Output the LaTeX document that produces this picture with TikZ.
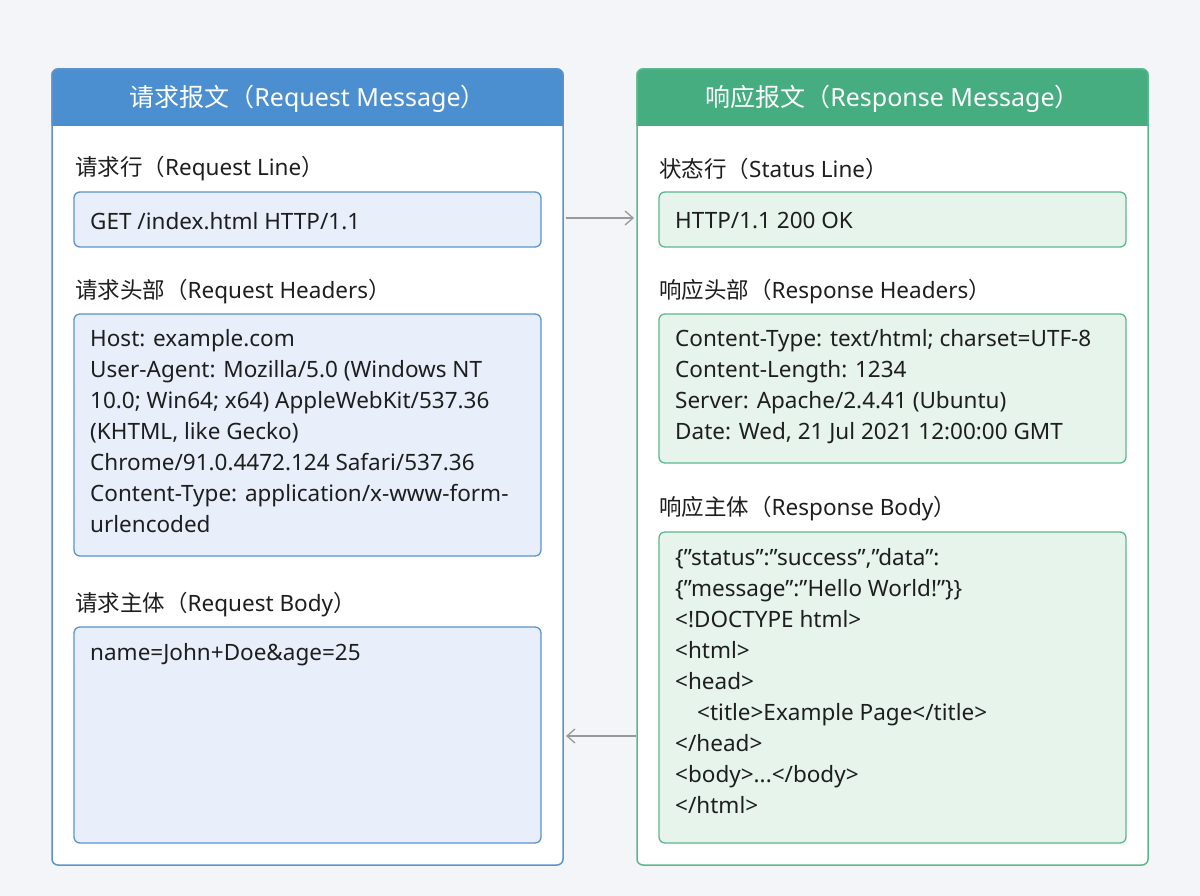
\documentclass[tikz,border=0pt]{standalone}
\usepackage{fontspec}
\setmainfont{Noto Sans}
\newfontfamily\cjk{Noto Sans CJK SC}
\usetikzlibrary{arrows.meta}
\definecolor{bg}{HTML}{F3F5F8}
\definecolor{blueH}{HTML}{4C8FD0}
\definecolor{blueB}{HTML}{E8EFFA}
\definecolor{blueL}{HTML}{5B93CC}
\definecolor{greenH}{HTML}{45AD80}
\definecolor{greenB}{HTML}{E6F4EC}
\definecolor{greenL}{HTML}{5DB78C}
\definecolor{txt}{HTML}{1E1E1E}
\tikzset{
  panel/.style={draw=#1, line width=1.5pt, fill=white, rounded corners=6pt},
  sub/.style={draw=#1, line width=1.3pt, rounded corners=6pt},
  lbl/.style={anchor=west, text=txt, font=\fontsize{22.5}{26}\selectfont, inner sep=0},
  body/.style={anchor=north west, text=txt, align=left, font=\fontsize{22.5}{31}\selectfont, inner sep=0},
  head/.style={text=white, font=\fontsize{25}{28}\selectfont, inner sep=0},
  conn/.style={draw=gray!80, line width=1.3pt, -{Straight Barb[length=8pt,width=14pt]}},
}
\begin{document}
\begin{tikzpicture}[x=1pt,y=-1pt]
\fill[bg] (0,0) rectangle (1200,896);
% left panel
\draw[panel=blueL] (52,69) rectangle (563,865);
\fill[blueH, rounded corners=6pt] (52,69) rectangle (563,126);
\fill[blueH] (52,110) rectangle (563,126);
\draw[blueL, line width=1.5pt, rounded corners=6pt] (52,126) -- (52,69) -- (563,69) -- (563,126);
\node[head] (lh) at (307.5,99) {{\cjk 请求报文（}Request Message{\cjk ）}};
% right panel
\draw[panel=greenL] (637,69) rectangle (1148,865);
\fill[greenH, rounded corners=6pt] (637,69) rectangle (1148,126);
\fill[greenH] (637,110) rectangle (1148,126);
\draw[greenL, line width=1.5pt, rounded corners=6pt] (637,126) -- (637,69) -- (1148,69) -- (1148,126);
\node[head] (rh) at (892.5,99) {{\cjk 响应报文（}Response Message{\cjk ）}};
% left sections
\node[lbl] (l1) at (75,169) {{\cjk 请求行（}Request Line{\cjk ）}};
\draw[sub=blueL, fill=blueB] (74,192) rectangle (541,247);
\node[lbl] (reqline) at (90,221) {GET /index.html HTTP/1.1};
\coordinate (reqR) at (566,218);
\node[lbl] (l2) at (75,292) {{\cjk 请求头部（}Request Headers{\cjk ）}};
\draw[sub=blueL, fill=blueB] (74,314) rectangle (541,556);
\node[body] (reqh) at (90,329) {Host: example.com\\User-Agent: Mozilla/5.0 (Windows NT\\10.0; Win64; x64) AppleWebKit/537.36\\(KHTML, like Gecko)\\Chrome/91.0.4472.124 Safari/537.36\\Content-Type: application/x-www-form-\\urlencoded};
\node[lbl] (l3) at (75,605) {{\cjk 请求主体（}Request Body{\cjk ）}};
\draw[sub=blueL, fill=blueB] (74,627) rectangle (541,843);
\node[body] (reqb) at (90,643) {name=John+Doe\&age=25};
\coordinate (reqL) at (566,736);
% right sections
\node[lbl] (r1) at (659,169) {{\cjk 状态行（}Status Line{\cjk ）}};
\draw[sub=greenL, fill=greenB] (659,192) rectangle (1126,247);
\node[lbl] (status) at (675,221) {HTTP/1.1 200 OK};
\coordinate (resL) at (634,218);
\node[lbl] (r2) at (659,292) {{\cjk 响应头部（}Response Headers{\cjk ）}};
\draw[sub=greenL, fill=greenB] (659,314) rectangle (1126,463);
\node[body] (resh) at (675,329) {Content-Type: text/html; charset=UTF-8\\Content-Length: 1234\\Server: Apache/2.4.41 (Ubuntu)\\Date: Wed, 21 Jul 2021 12:00:00 GMT};
\node[lbl] (r3) at (659,509) {{\cjk 响应主体（}Response Body{\cjk ）}};
\draw[sub=greenL, fill=greenB] (659,532) rectangle (1126,843);
\node[body] (resb) at (675,548) {\{"status":"success","data":\\\{"message":"Hello World!"\}\}\\<!DOCTYPE html>\\<html>\\<head>\\\hspace*{22pt}<title>Example Page</title>\\</head>\\<body>...</body>\\</html>};
\coordinate (resB) at (636,736);
% connectors
\draw[conn] (reqR) -- (resL);
\draw[conn] (resB) -- (reqL);
\end{tikzpicture}
\end{document}
